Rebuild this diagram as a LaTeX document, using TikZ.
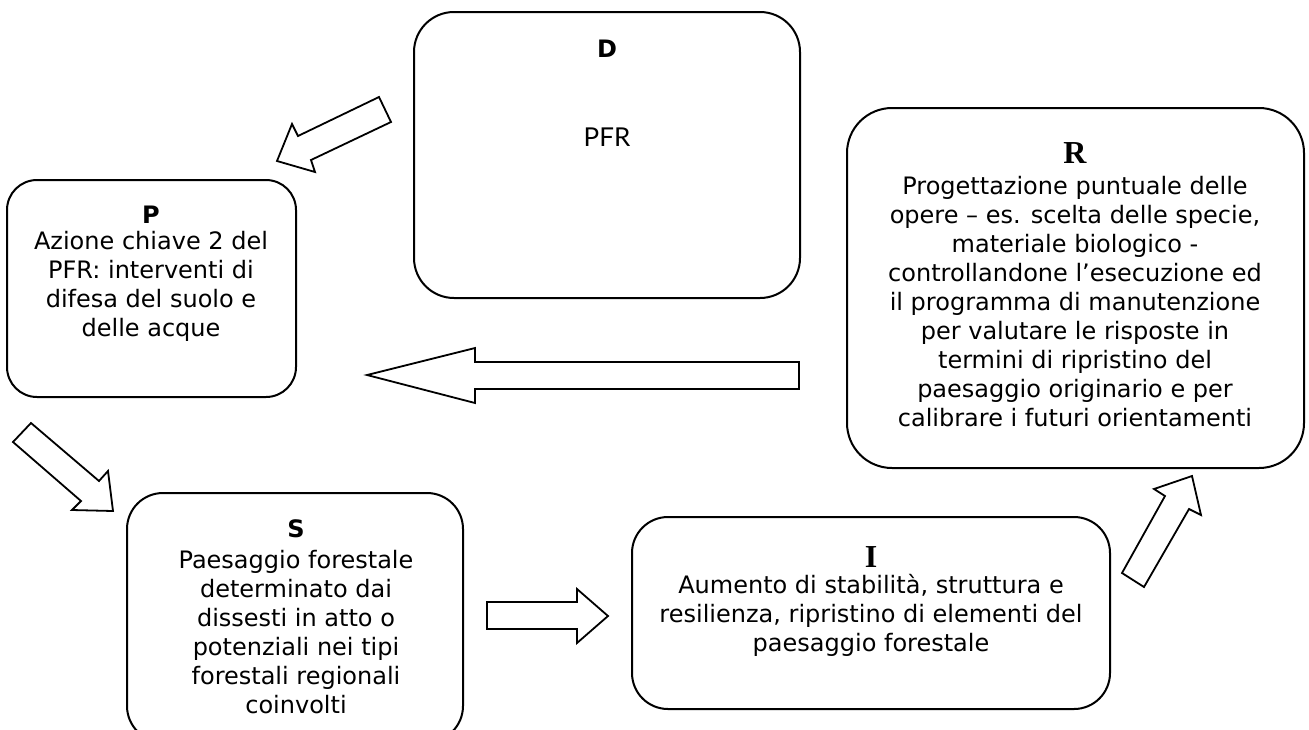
\documentclass[tikz,border=0pt]{standalone}
\usepackage{fontspec}
\setmainfont{DejaVu Sans}
\newfontfamily\headserif{Liberation Serif}
\newfontfamily\pfrfont{Lato}
\begin{document}
\begin{tikzpicture}[x=1pt,y=-1pt,
  box/.style={draw, line width=2pt, rounded corners=#1, inner sep=0pt},
  box/.default=36pt,
  head/.style={font=\fontsize{24}{29}\selectfont\bfseries, inner sep=0pt},
  sehead/.style={font=\fontsize{32}{36}\selectfont\headserif\bfseries, inner sep=0pt},
  body/.style={font=\fontsize{24}{29}\selectfont, align=center, inner sep=0pt},
  blockarrow/.style={draw, line width=1.8pt, line join=miter, fill=white}
]
\clip (0,0) rectangle (1309,729);
\fill[white] (0,0) rectangle (1309,729);

% the five stages of the DPSIR cycle
\node[box=40pt, minimum width=386pt, minimum height=286pt] (D) at (607,155) {};
\node[box=30pt, minimum width=289pt, minimum height=217pt] (P) at (151.5,288.5) {};
\node[box=45pt, minimum width=457pt, minimum height=360pt] (R) at (1075.5,288) {};
\node[box=36pt, minimum width=336pt, minimum height=249pt] (S) at (295,617.5) {};
\node[box=36pt, minimum width=478pt, minimum height=192pt] (I) at (871,613) {};

% D
\node[head] (Dh) at (607,49) {D};
\node[font=\fontsize{26}{30}\selectfont\pfrfont, inner sep=0pt] (Dt) at (607,137) {PFR};

% P
\node[head] (Ph) at (151,215) {P};
\node[body] (Pt) at (151,286) {Azione chiave 2 del\\PFR: interventi di\\difesa del suolo e\\delle acque};

% R
\node[sehead] (Rh) at (1075,153) {R};
\node[body] (Rt) at (1075,301.5) {Progettazione puntuale delle\\opere – es. scelta delle specie,\\materiale biologico -\\controllandone l’esecuzione ed\\il programma di manutenzione\\per valutare le risposte in\\termini di ripristino del\\paesaggio originario e per\\calibrare i futuri orientamenti};

% S
\node[head] (Sh) at (296,529) {S};
\node[body] (St) at (296,632.5) {Paesaggio forestale\\determinato dai\\dissesti in atto o\\potenziali nei tipi\\forestali regionali\\coinvolti};

% I
\node[sehead] (Ih) at (871,557) {I};
\node[body] (It) at (871,615) {Aumento di stabilità, struttura e\\resilienza, ripristino di elementi del\\paesaggio forestale};

% hollow block arrows between the stages
% D -> P
\draw[blockarrow] (379,97) -- (391,122) -- (311,160) -- (315,172) -- (277,161) -- (292,124) -- (298,136) -- cycle;
% P -> S
\draw[blockarrow] (31,423) -- (99,481) -- (108,471) -- (113,511) -- (72,510) -- (81,501) -- (13,442) -- cycle;
% R -> P
\draw[blockarrow] (367,375) -- (475,348) -- (475,362) -- (799,362) -- (799,389) -- (475,389) -- (475,403) -- cycle;
% S -> I
\draw[blockarrow] (487,602) -- (577,602) -- (577,589) -- (608,616) -- (577,643) -- (577,629) -- (487,629) -- cycle;
% I -> R
\draw[blockarrow] (1122,573) -- (1165,496) -- (1154,489) -- (1192,476) -- (1201,515) -- (1189,509) -- (1144,587) -- cycle;
\end{tikzpicture}
\end{document}
